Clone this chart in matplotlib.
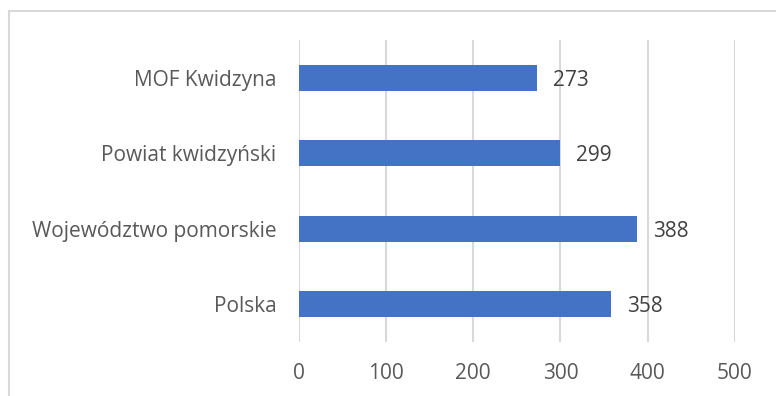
import matplotlib.pyplot as plt
from matplotlib.patches import Rectangle

# dane do wykresu (od gory do dolu)
kategorie = ['MOF Kwidzyna', 'Powiat kwidzyński', 'Województwo pomorskie', 'Polska']
wartosci = [273, 299, 388, 358]
ticki_x = [0, 100, 200, 300, 400, 500]

plt.rcParams['font.family'] = ['Open Sans', 'DejaVu Sans']

kolor_slupka = '#4472C4'
kolor_tekstu = '#595959'
kolor_siatki = '#D9D9D9'

fig = plt.figure(figsize=(7.76, 3.96), dpi=100)
ax = fig.add_axes([298.5/776, 1-342/396, (735-298.5)/776, (342-40)/396])

pozycje = list(range(len(kategorie)))
ax.barh(pozycje, wartosci, height=0.35, color=kolor_slupka, zorder=3)

for y, v in zip(pozycje, wartosci):
    ax.annotate(str(v), xy=(v, y), xytext=(16, 0), textcoords='offset pixels',
                va='center_baseline', ha='left', fontsize=15, color='#404040')

ax.set_xlim(0, 500)
ax.set_ylim(-0.5, 3.5)
ax.invert_yaxis()
ax.set_xticks(ticki_x)
ax.set_yticks(pozycje)
ax.set_yticklabels(kategorie)
ax.grid(axis='x', color=kolor_siatki, linewidth=1.5, zorder=0)
ax.tick_params(axis='both', length=0, labelsize=15, labelcolor=kolor_tekstu)
ax.tick_params(axis='y', pad=16)
ax.tick_params(axis='x', pad=15)
for s in ax.spines.values():
    s.set_visible(False)

# ramka wokol calego wykresu
fig.patches.append(Rectangle((9/776, -0.1), 1.2, 1-11/396+0.1, transform=fig.transFigure,
                             fill=False, edgecolor=kolor_siatki, linewidth=1.5))

fig.savefig('out.png', dpi=100)
